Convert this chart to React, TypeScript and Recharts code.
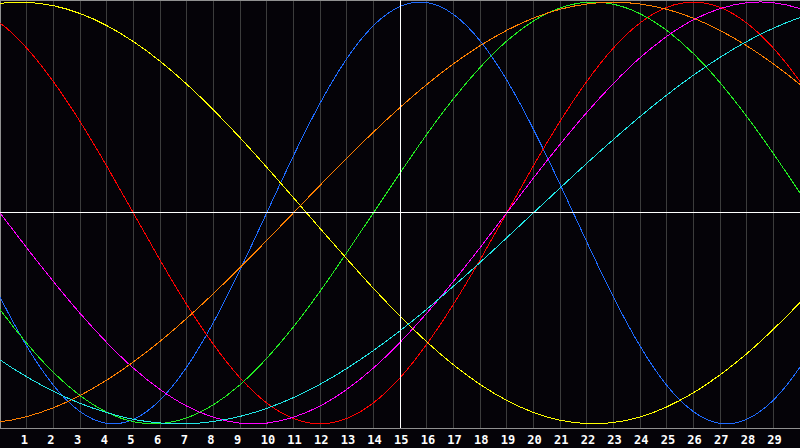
import React from "react";
import { LineChart, Line, XAxis, YAxis, CartesianGrid, ReferenceLine, ReferenceArea } from "recharts";

// days -1..31, the chart shows 0..30
const days = [-1, 0, 1, 2, 3, 4, 5, 6, 7, 8, 9, 10, 11, 12, 13, 14, 15, 16, 17, 18, 19, 20, 21, 22, 23, 24, 25, 26, 27, 28, 29, 30, 31];
const dayTicks = [1, 2, 3, 4, 5, 6, 7, 8, 9, 10, 11, 12, 13, 14, 15, 16, 17, 18, 19, 20, 21, 22, 23, 24, 25, 26, 27, 28, 29];

const physical = [-0.136, -0.398, -0.631, -0.817, -0.942, -0.998, -0.979, -0.888, -0.731, -0.52, -0.27, 0, 0.27, 0.52, 0.731, 0.888, 0.979, 0.998, 0.942, 0.817, 0.631, 0.398, 0.136, -0.136, -0.398, -0.631, -0.817, -0.942, -0.998, -0.979, -0.888, -0.731, -0.52];
const emotional = [0.975, 0.901, 0.782, 0.623, 0.434, 0.223, 0, -0.223, -0.434, -0.623, -0.782, -0.901, -0.975, -1, -0.975, -0.901, -0.782, -0.623, -0.434, -0.223, 0, 0.223, 0.434, 0.623, 0.782, 0.901, 0.975, 1, 0.975, 0.901, 0.782, 0.623, 0.434];
const intellectual = [-0.282, -0.458, -0.618, -0.756, -0.866, -0.945, -0.99, -0.999, -0.972, -0.91, -0.815, -0.69, -0.541, -0.372, -0.189, 0, 0.189, 0.372, 0.541, 0.69, 0.815, 0.91, 0.972, 0.999, 0.99, 0.945, 0.866, 0.756, 0.618, 0.458, 0.282, 0.095, -0.095];
const intuitive = [0.165, 0, -0.165, -0.325, -0.476, -0.614, -0.736, -0.837, -0.916, -0.969, -0.997, -0.997, -0.969, -0.916, -0.837, -0.736, -0.614, -0.476, -0.325, -0.165, 0, 0.165, 0.325, 0.476, 0.614, 0.736, 0.837, 0.916, 0.969, 0.997, 0.997, 0.969, 0.916];
const aesthetic = [0.968, 0.994, 0.999, 0.983, 0.946, 0.889, 0.813, 0.72, 0.611, 0.489, 0.357, 0.217, 0.073, -0.073, -0.217, -0.357, -0.489, -0.611, -0.72, -0.813, -0.889, -0.946, -0.983, -0.999, -0.994, -0.968, -0.92, -0.853, -0.768, -0.668, -0.552, -0.425, -0.288];
const awareness = [-1, -0.991, -0.966, -0.924, -0.866, -0.793, -0.707, -0.609, -0.5, -0.383, -0.259, -0.131, 0, 0.131, 0.259, 0.383, 0.5, 0.609, 0.707, 0.793, 0.866, 0.924, 0.966, 0.991, 1, 0.991, 0.966, 0.924, 0.866, 0.793, 0.707, 0.609, 0.5];
const spiritual = [-0.607, -0.697, -0.777, -0.846, -0.903, -0.947, -0.979, -0.996, -1, -0.989, -0.965, -0.927, -0.876, -0.813, -0.738, -0.653, -0.559, -0.457, -0.348, -0.235, -0.118, 0, 0.118, 0.235, 0.348, 0.457, 0.559, 0.653, 0.738, 0.813, 0.876, 0.927, 0.965];

const data = days.map((d, i) => ({
  d,
  physical: physical[i],
  emotional: emotional[i],
  intellectual: intellectual[i],
  intuitive: intuitive[i],
  aesthetic: aesthetic[i],
  awareness: awareness[i],
  spiritual: spiritual[i],
}));

const series = [
  { key: "physical", color: "#1e6bff" },
  { key: "emotional", color: "#ff0000" },
  { key: "intellectual", color: "#22ee22" },
  { key: "intuitive", color: "#ff00ff" },
  { key: "aesthetic", color: "#ffff00" },
  { key: "awareness", color: "#ff8000" },
  { key: "spiritual", color: "#22e6e6" },
];

const DayTick = (props: any) => {
  const { x, y, payload } = props;
  return (
    <text
      x={x - 6}
      y={y + 8}
      textAnchor="start"
      fill="#ffffff"
      fontSize={12}
      fontWeight="bold"
      fontFamily="DejaVu Sans Mono, monospace"
    >
      {payload.value}
    </text>
  );
};

export default function App() {
  return (
    <div style={{ position: "absolute", left: 0, top: 0, width: 800, height: 448, background: "#050308" }}>
      <LineChart width={800} height={448} data={data} margin={{ top: 0, right: 0, left: 0, bottom: 0 }}>
        <CartesianGrid horizontal={false} stroke="#3c3c3c" shapeRendering="crispEdges" />
        <XAxis
          dataKey="d"
          type="number"
          domain={[0, 30]}
          allowDataOverflow
          ticks={dayTicks}
          interval={0}
          height={20}
          tickLine={false}
          axisLine={{ stroke: "#909090", shapeRendering: "crispEdges" }}
          tick={<DayTick />}
        />
        <YAxis hide domain={[-1.02, 1.01]} allowDataOverflow />
        <ReferenceArea
          x1={0}
          x2={30}
          y1={-1.02}
          y2={1.01}
          fill="none"
          stroke="#909090"
          shapeRendering="crispEdges"
          ifOverflow="visible"
        />
        {series.map((s) => (
          <Line
            key={s.key}
            dataKey={s.key}
            type="natural"
            stroke={s.color}
            strokeWidth={1}
            shapeRendering="crispEdges"
            dot={false}
            activeDot={false}
            isAnimationActive={false}
          />
        ))}
        <ReferenceLine y={0} stroke="#ffffff" shapeRendering="crispEdges" />
        <ReferenceLine x={15} stroke="#ffffff" shapeRendering="crispEdges" />
      </LineChart>
    </div>
  );
}
